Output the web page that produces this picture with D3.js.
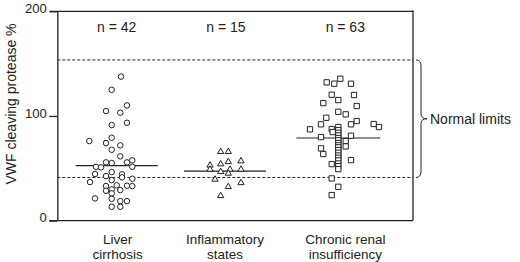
<!DOCTYPE html>
<html><head><meta charset="utf-8">
<script src="https://cdn.jsdelivr.net/npm/d3@7"></script>
<style>
html,body{margin:0;padding:0;background:#fff;}
svg{display:block;font-family:"Liberation Sans",Arial,Helvetica,sans-serif;}
</style></head>
<body><svg id="c" width="520" height="262"></svg>
<script>
// ---------- data ----------
const categories = ["Liver cirrhosis", "Inflammatory states", "Chronic renal insufficiency"];
const categoryLines = [["Liver", "cirrhosis"], ["Inflammatory", "states"], ["Chronic renal", "insufficiency"]];
const counts = [42, 15, 63];
const medians = [52.5, 47.3, 78.9];
const normalLimits = [41.2, 153.5];
const yTicks = [0, 100, 200];

// values (VWF cleaving protease %) and horizontal jitter per group
const cirrhosisValues = [137.6,125.0,110.1,104.7,103.1,91.3,93.5,76.0,74.1,79.2,71.9,67.7,61.4,55.6,55.0,55.6,57.6,51.4,51.4,50.9,46.4,44.5,42.5,44.2,41.3,40.0,36.8,38.7,33.0,33.7,33.3,33.0,28.5,29.8,29.2,21.2,26.0,18.6,20.8,13.2,13.2,18.6];
const cirrhosisJitter = [9.3,0,15.3,-5.7,8.6,0,15.3,-22.4,-5.7,0,8.6,0,8.6,-5.7,0,15.3,20.6,20.6,-15.7,-10.7,0,-16.7,-5.7,10.3,10.3,20.6,-21.7,0,-5.7,5,15.3,20.6,-5.7,0,8.6,-16.7,0,8.6,0,0,8.6,15.3];

const inflammatoryValues = [65.8,65.8,52.8,54.0,56.2,56.9,48.9,46.7,48.9,48.9,45.1,39.4,32.3,36.1,23.7];
const inflammatoryJitter = [-4.3,3.3,-15,-4.3,3.3,16,-15,-4.3,5,16,3.3,-10,3.3,16,-4.3];

const renalValues = [132.1,130.8,135.6,130.8,120.3,115.2,120.0,112.3,109.5,104.0,101.5,98.3,95.1,92.0,92.0,92.3,89.4,87.2,87.5,84.6,81.1,79.8,76.0,70.9,69.0,63.6,57.8,54.0,40.3,32.3,24.4,
  89.4,86.5,83.9,81.4,78.9,76.7,74.1,71.9,70.0,67.4,64.8,62.2,60.0,57.5,54.6,52.0,49.2];
const renalJitter = [-11.6,-4,2,12.7,-6.6,0,15.7,-15,18.4,0,7.4,-12,18.4,12.7,-17.3,35.4,40.7,-28.3,-6.6,-5.6,12.7,-17.3,7.4,7.4,-17.3,-15,12.7,-6.6,-6.6,0,-6.6,
  0,0,0,0,0,0,0,0,0,0,0,0,0,0,0,0,0];

// ---------- drawing ----------
const svg = d3.select("#c");
const ink = "#222";
const frameL = 57.3, frameR = 413;
const y = d3.scaleLinear().domain([0, 200]).range([220.6, 11.3]);
const x = d3.scalePoint().domain(categories).range([111.7, 338.3]);
const jit = d3.scaleLinear().domain([-50, 50]).range([-50, 50]);

// frame
const g = svg.append("g");
g.append("line").attr("x1", frameL - 7.5).attr("x2", frameR).attr("y1", y(200)).attr("y2", y(200)).attr("stroke", ink).attr("stroke-width", 1.3);
g.append("line").attr("x1", frameL - 8).attr("x2", frameR).attr("y1", y(0)).attr("y2", y(0)).attr("stroke", ink).attr("stroke-width", 1.3);
g.append("line").attr("x1", frameR).attr("x2", frameR).attr("y1", y(200) - 1).attr("y2", y(0)).attr("stroke", ink).attr("stroke-width", 1.3);

// y axis
const yAxis = d3.axisLeft(y).tickValues(yTicks).tickSize(8).tickPadding(2.5).tickSizeOuter(0);
const ya = svg.append("g").attr("transform", `translate(${frameL},0)`).call(yAxis);
ya.select(".domain").attr("stroke", ink).attr("stroke-width", 1.3);
ya.selectAll(".tick line").attr("stroke", ink).attr("stroke-width", 1.3);
ya.selectAll(".tick text").attr("fill", ink).attr("font-size", 13).attr("font-family", "Liberation Sans, Arial, sans-serif")
  .attr("dy", "0.1em");

svg.append("text").attr("transform", `translate(15.5,104) rotate(-90)`).attr("text-anchor", "middle")
  .attr("font-size", 14).attr("fill", ink).text("VWF cleaving protease %");

// normal limits dashed lines
svg.selectAll("line.nl").data(normalLimits).join("line").attr("class", "nl")
  .attr("x1", frameL).attr("x2", frameR).attr("y1", d => y(d)).attr("y2", d => y(d))
  .attr("stroke", ink).attr("stroke-width", 1).attr("stroke-dasharray", "3,2");

// brace
const bt = y(normalLimits[1]), bb = y(normalLimits[0]), bm = (bt + bb) / 2;
const bx = 416, bw = 5, tip = 427;
svg.append("path")
  .attr("d", `M${bx},${bt} Q${bx + bw},${bt} ${bx + bw},${bt + 6} L${bx + bw},${bm - 5} Q${bx + bw},${bm} ${tip},${bm} Q${bx + bw},${bm} ${bx + bw},${bm + 5} L${bx + bw},${bb - 6} Q${bx + bw},${bb} ${bx},${bb}`)
  .attr("fill", "none").attr("stroke", ink).attr("stroke-width", 1);
svg.append("text").attr("x", 430).attr("y", bm + 5).attr("font-size", 14).attr("fill", ink).text("Normal limits");

// medians
const halfW = [41, 41, 42];
svg.selectAll("line.med").data(categories).join("line").attr("class", "med")
  .attr("x1", (d, i) => x(d) - halfW[i] + (i === 0 ? 5 : 0)).attr("x2", (d, i) => x(d) + halfW[i] + (i === 0 ? 5 : 0))
  .attr("y1", (d, i) => y(medians[i])).attr("y2", (d, i) => y(medians[i]))
  .attr("stroke", ink).attr("stroke-width", 1.1);

// points
const groups = [
  {c: categories[0], v: cirrhosisValues, j: cirrhosisJitter, shape: "circle"},
  {c: categories[1], v: inflammatoryValues, j: inflammatoryJitter, shape: "triangle"},
  {c: categories[2], v: renalValues, j: renalJitter, shape: "square"}
];
const sym = {circle: d3.symbolCircle, triangle: d3.symbolTriangle, square: d3.symbolSquare};
const symSize = {circle: 24, triangle: 17, square: 28};
groups.forEach(gr => {
  svg.append("g").selectAll("path").data(gr.v.map((v, i) => ({v, j: gr.j[i]}))).join("path")
    .attr("transform", d => `translate(${x(gr.c) + jit(d.j)},${y(d.v)})`)
    .attr("d", d3.symbol(sym[gr.shape], symSize[gr.shape]))
    .attr("fill", "#fff").attr("stroke", ink).attr("stroke-width", 1);
});

// n labels
const nShift = [5, 1, 7];
svg.selectAll("text.n").data(categories).join("text").attr("class", "n")
  .attr("x", (d, i) => x(d) + nShift[i]).attr("y", 31.5).attr("text-anchor", "middle")
  .attr("font-size", 14).attr("fill", ink).text((d, i) => `n = ${counts[i]}`);

// category labels (two lines)
const labShift = [6, 0, 7];
categories.forEach((c, i) => {
  const t = svg.append("text").attr("x", x(c) + labShift[i]).attr("y", 243.8).attr("text-anchor", "middle")
    .attr("font-size", 13.5).attr("fill", ink);
  categoryLines[i].forEach((line, k) => {
    t.append("tspan").attr("x", x(c) + labShift[i]).attr("dy", k === 0 ? 0 : 15.2).text(line);
  });
});
</script></body></html>
